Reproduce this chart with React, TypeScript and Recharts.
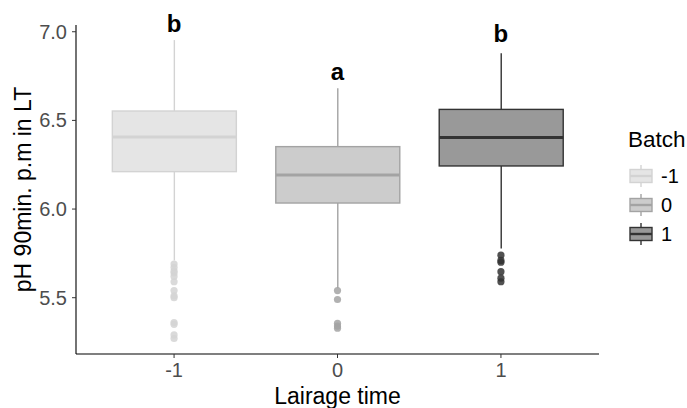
import { Bar, ComposedChart, Scatter, XAxis, YAxis } from "recharts";

// pH 90 min post mortem by lairage time, one box per batch (ggplot-style boxplot).

const CATEGORIES = ["-1", "0", "1"];
const POSITIONS = [1, 2, 3];
const WHISKER_LOW = [5.71, 5.553, 5.778];
const Q1 = [6.211, 6.034, 6.243];
const MEDIAN = [6.406, 6.192, 6.403];
const Q3 = [6.553, 6.352, 6.562];
const WHISKER_HIGH = [6.953, 6.681, 6.878];
const LETTERS = ["b", "a", "b"];
const LETTER_Y = [7.0, 6.73, 6.94];

const OUTLIERS_M1 = [5.69, 5.67, 5.65, 5.64, 5.62, 5.59, 5.54, 5.51, 5.5, 5.36, 5.35, 5.29, 5.27];
const OUTLIERS_0 = [5.54, 5.49, 5.356, 5.34, 5.328];
const OUTLIERS_1 = [5.74, 5.71, 5.7, 5.647, 5.61, 5.59];

const Y_TICKS = [5.5, 6.0, 6.5, 7.0];
const Y_DOMAIN: [number, number] = [5.1825, 7.038];

const FILLS = ["#e5e5e5", "#cccccc", "#999999"];
const STROKES = ["#d3d3d3", "#a3a3a3", "#333333"];

const FONT = "'Liberation Sans', Arial, Helvetica, sans-serif";

const boxes = POSITIONS.map((pos, i) => ({
  pos,
  range: [WHISKER_LOW[i], WHISKER_HIGH[i]],
  q1: Q1[i],
  median: MEDIAN[i],
  q3: Q3[i],
  idx: i,
}));

const outlierSets = [OUTLIERS_M1, OUTLIERS_0, OUTLIERS_1].map((vals, i) =>
  vals.map((value) => ({ pos: POSITIONS[i], value }))
);

const letters = POSITIONS.map((pos, i) => ({ pos, value: LETTER_Y[i], text: LETTERS[i] }));

// The bar spans whisker-low..whisker-high; quartiles are placed on the same scale.
function BoxShape(props: any) {
  const { x, y, width, height, payload } = props;
  const [lo, hi] = payload.range;
  const top = Math.min(y, y + height);
  const h = Math.abs(height);
  const py = (v: number) => top + (h * (hi - v)) / (hi - lo);
  const cx = x + width / 2;
  const fill = FILLS[payload.idx];
  const stroke = STROKES[payload.idx];
  return (
    <g>
      <line x1={cx} x2={cx} y1={py(hi)} y2={py(payload.q3)} stroke={stroke} strokeWidth={1.4} />
      <line x1={cx} x2={cx} y1={py(payload.q1)} y2={py(lo)} stroke={stroke} strokeWidth={1.4} />
      <rect
        x={x}
        y={py(payload.q3)}
        width={width}
        height={py(payload.q1) - py(payload.q3)}
        fill={fill}
        stroke={stroke}
        strokeWidth={1.4}
      />
      <line x1={x} x2={x + width} y1={py(payload.median)} y2={py(payload.median)} stroke={stroke} strokeWidth={3} />
    </g>
  );
}

function OutlierDot(color: string) {
  return (props: any) => <circle cx={props.cx} cy={props.cy} r={3.6} fill={color} fillOpacity={0.85} />;
}

function LetterMark(props: any) {
  return (
    <text x={props.cx} y={props.cy} textAnchor="middle" fontSize={24} fontWeight="bold" fill="#000" fontFamily={FONT}>
      {props.payload.text}
    </text>
  );
}

function KeyGlyph({ i, cy }: { i: number; cy: number }) {
  return (
    <g>
      <line x1={641} x2={641} y1={cy - 11} y2={cy + 11} stroke={STROKES[i]} strokeWidth={1.4} />
      <rect x={630} y={cy - 6.5} width={22} height={13} fill={FILLS[i]} stroke={STROKES[i]} strokeWidth={1.4} />
      <line x1={630} x2={652} y1={cy} y2={cy} stroke={STROKES[i]} strokeWidth={2.4} />
    </g>
  );
}

function BatchLegend() {
  const rows = [176, 205, 234];
  return (
    <svg width={687} height={408} style={{ position: "absolute", left: 0, top: 0, pointerEvents: "none" }}>
      <text x={628} y={147} fontSize={22.5} fill="#000" fontFamily={FONT}>
        Batch
      </text>
      {CATEGORIES.map((c, i) => (
        <g key={c}>
          <KeyGlyph i={i} cy={rows[i]} />
          <text x={661} y={rows[i]} dy="0.355em" fontSize={20} fill="#000" fontFamily={FONT}>
            {c}
          </text>
        </g>
      ))}
    </svg>
  );
}

export default function App() {
  return (
    <div style={{ position: "absolute", left: 0, top: 0, width: 687, height: 408, background: "#fff", fontFamily: FONT }}>
      <ComposedChart width={687} height={408} data={boxes} margin={{ top: 25, right: 88, bottom: 0, left: 0 }}>
        <XAxis
          type="number"
          dataKey="pos"
          domain={[0.4, 3.6]}
          ticks={POSITIONS}
          tickFormatter={(v: number) => CATEGORIES[v - 1]}
          height={54}
          tickSize={4}
          tickMargin={5}
          axisLine={{ stroke: "#000", strokeWidth: 1.1 }}
          tickLine={{ stroke: "#333" }}
          tick={{ fontSize: 20, fill: "#4d4d4d", fontFamily: FONT }}
          label={{
            content: (p: any) => {
              const vb = p.viewBox;
              return (
                <text x={vb.x + vb.width / 2} y={vb.y + 50} textAnchor="middle" fontSize={23} fill="#000" fontFamily={FONT}>
                  Lairage time
                </text>
              );
            },
          }}
        />
        <YAxis
          type="number"
          domain={Y_DOMAIN}
          ticks={Y_TICKS}
          tickFormatter={(v: number) => v.toFixed(1)}
          width={76}
          tickSize={4}
          tickMargin={5}
          axisLine={{ stroke: "#000", strokeWidth: 1.1 }}
          tickLine={{ stroke: "#333" }}
          tick={{ fontSize: 20, fill: "#4d4d4d", fontFamily: FONT }}
          label={{
            content: (p: any) => {
              const vb = p.viewBox;
              const cy = vb.y + vb.height / 2;
              return (
                <text
                  x={31}
                  y={cy}
                  transform={`rotate(-90 31 ${cy})`}
                  textAnchor="middle"
                  fontSize={23}
                  fill="#000"
                  fontFamily={FONT}
                >
                  pH 90min. p.m in LT
                </text>
              );
            },
          }}
        />
        <Bar dataKey="range" barSize={124} shape={BoxShape} isAnimationActive={false} />
        {outlierSets.map((set, i) => (
          <Scatter key={i} data={set} dataKey="value" shape={OutlierDot(STROKES[i])} isAnimationActive={false} />
        ))}
        <Scatter data={letters} dataKey="value" shape={LetterMark} isAnimationActive={false} />
      </ComposedChart>
      <BatchLegend />
    </div>
  );
}
